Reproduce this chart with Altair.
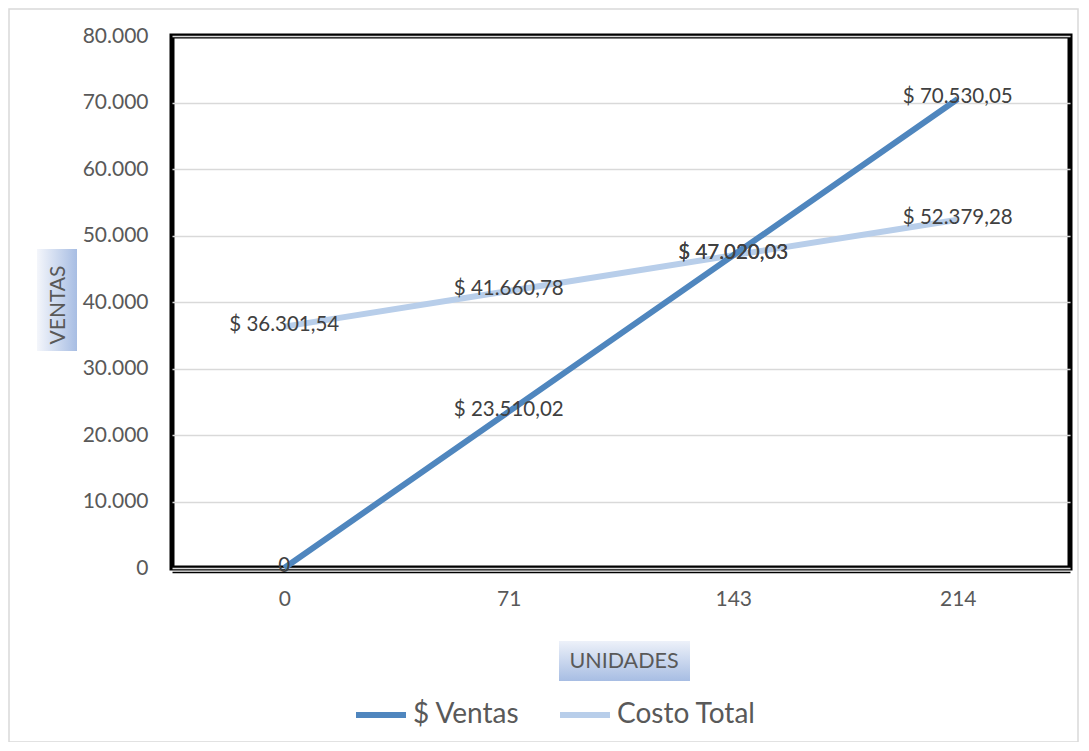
import altair as alt
import pandas as pd

unidades = ["0", "71", "143", "214"]
ventas = [0, 23510.02, 47020.03, 70530.05]
costo_total = [36301.54, 41660.78, 47020.03, 52379.28]
series = ["$ Ventas", "Costo Total"]
colores = ["#4F86BE", "#B8CEEA"]
y_ticks = [0, 10000, 20000, 30000, 40000, 50000, 60000, 70000, 80000]


def fmt(v):
    if v == 0:
        return "0"
    s = f"{v:,.2f}".replace(",", "X").replace(".", ",").replace("X", ".")
    return "$ " + s


rows = []
for u, v in zip(unidades, ventas):
    rows.append({"u": u, "valor": v, "serie": series[0], "etiqueta": fmt(v)})
for u, v in zip(unidades, costo_total):
    rows.append({"u": u, "valor": v, "serie": series[1], "etiqueta": fmt(v)})
df = pd.DataFrame(rows)

FONT = "Lato"
W, H = 898, 532

x = alt.X(
    "u:N", sort=unidades,
    scale=alt.Scale(type="point", padding=0.5),
    axis=alt.Axis(title=None, labelAngle=0, ticks=False, labelFontSize=21,
                  labelColor="#595959", labelFont=FONT, labelPadding=16,
                  domainColor="black", domainWidth=1.5, offset=4, grid=False),
)
y = alt.Y(
    "valor:Q",
    scale=alt.Scale(domain=[0, 80000], nice=False),
    axis=alt.Axis(title=None, values=y_ticks, ticks=False, domain=False,
                  labelExpr="replace(format(datum.value, ','), ',', '.')",
                  labelFontSize=21, labelColor="#595959", labelFont=FONT,
                  labelPadding=24, gridColor="#D9D9D9", gridWidth=1.5),
)
color = alt.Color(
    "serie:N",
    scale=alt.Scale(domain=series, range=colores),
    legend=alt.Legend(title=None, orient="none", legendX=181, legendY=651,
                      direction="horizontal", symbolType="stroke",
                      symbolStrokeWidth=6, symbolSize=2500, labelFontSize=28,
                      labelColor="#595959", labelFont=FONT, labelOffset=4,
                      columnPadding=28, labelLimit=400),
)

base = alt.Chart(df)
line_costo = base.transform_filter(alt.datum.serie == series[1]).mark_line(
    strokeWidth=6).encode(x=x, y=y, color=color)
line_ventas = base.transform_filter(alt.datum.serie == series[0]).mark_line(
    strokeWidth=6).encode(x=x, y=y, color=color)
labels = base.mark_text(fontSize=20.5, color="#404040", font=FONT, dy=-2).encode(
    x=x, y=y, text="etiqueta:N")

grad_h = alt.Gradient(
    gradient="linear", x1=0, x2=1, y1=0, y2=0,
    stops=[alt.GradientStop(color="#F4F6FB", offset=0),
           alt.GradientStop(color="#A7BDE3", offset=1)],
)
grad_v = alt.Gradient(
    gradient="linear", x1=0, x2=0, y1=0, y2=1,
    stops=[alt.GradientStop(color="#EDF1F9", offset=0),
           alt.GradientStop(color="#A7BDE3", offset=1)],
)

ytitle_df = pd.DataFrame({"t": ["VENTAS"]})
xtitle_df = pd.DataFrame({"t": ["UNIDADES"]})

ybox = alt.Chart(ytitle_df).mark_rect(fill=grad_h).encode(
    x=alt.value(-135), x2=alt.value(-95), y=alt.value(213), y2=alt.value(315))
ytext = alt.Chart(ytitle_df).mark_text(
    angle=270, fontSize=21, color="#595959", font=FONT).encode(
    x=alt.value(-113), y=alt.value(269), text="t:N")
xbox = alt.Chart(xtitle_df).mark_rect(fill=grad_v).encode(
    x=alt.value(387), x2=alt.value(518), y=alt.value(605), y2=alt.value(645))
xtext = alt.Chart(xtitle_df).mark_text(
    fontSize=21.5, color="#595959", font=FONT).encode(
    x=alt.value(452), y=alt.value(626), text="t:N")
frame = alt.Chart(ytitle_df).mark_rect(
    fill="transparent", stroke="#D9D9D9", strokeWidth=1.5).encode(
    x=alt.value(-163), x2=alt.value(906), y=alt.value(-27), y2=alt.value(706))

chart = alt.layer(
    frame, ybox, ytext, xbox, xtext, line_costo, line_ventas, labels
).properties(
    width=W, height=H,
    autosize=alt.AutoSizeParams(type="none"),
    padding={"left": 164, "top": 28, "right": 10, "bottom": 174},
    background="white",
).configure_view(stroke="black", strokeWidth=5)

chart.save("out.html", embed_options={"renderer": "svg", "actions": False})
